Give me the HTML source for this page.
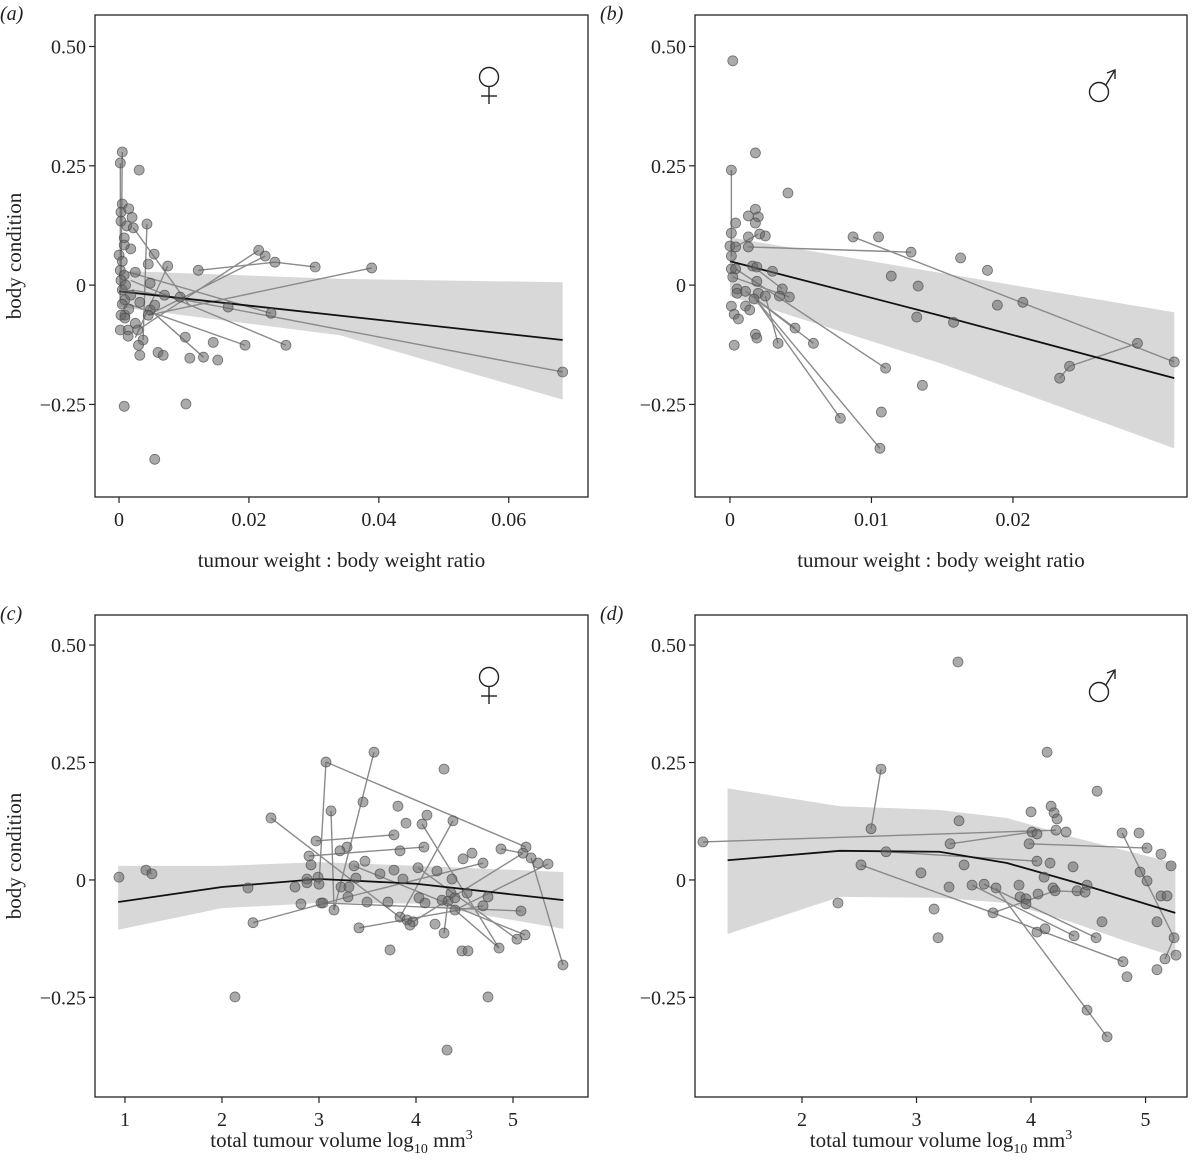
<!DOCTYPE html>
<html><head><meta charset="utf-8"><style>
body{margin:0;background:#fff}
svg{display:block;font-family:"Liberation Serif",serif}
</style></head><body>
<svg id="chart" width="1200" height="1165" viewBox="0 0 1200 1165"></svg>
<script>
// ---------- Panel (a) data ----------
const ptsA=[[0.0005,0.279],[0.0002,0.256],[0.0031,0.241],[0.0005,0.170],[0.0003,0.153],[0.0015,0.160],[0.0003,0.134],[0.002,0.142],[0.0012,0.124],[0.0022,0.120],[0.0043,0.128],[0.0008,0.099],[0.0018,0.076],[0.0008,0.084],[0.0054,0.065],[0.0045,0.044],[0.0075,0.040],[0.0,0.063],[0.0002,0.031],[0.0008,0.021],[0.0025,0.027],[0.0048,0.004],[0.0094,-0.025],[0.0048,-0.052],[0.0032,-0.036],[0.0009,-0.063],[0.0003,-0.063],[0.0025,-0.080],[0.0002,-0.094],[0.0014,-0.094],[0.0014,-0.107],[0.0029,-0.094],[0.0037,-0.115],[0.0102,-0.109],[0.0032,-0.147],[0.006,-0.141],[0.0068,-0.147],[0.0122,0.031],[0.0215,0.073],[0.0225,0.061],[0.024,0.048],[0.0302,0.038],[0.0389,0.036],[0.0168,-0.046],[0.0234,-0.059],[0.0257,-0.126],[0.0194,-0.126],[0.0152,-0.157],[0.013,-0.151],[0.0109,-0.153],[0.0008,-0.254],[0.0103,-0.249],[0.0055,-0.365],[0.0683,-0.182],[0.0005,-0.010],[0.0003,0.010],[0.0009,-0.031],[0.0018,-0.021],[0.0055,-0.042],[0.007,-0.021],[0.0045,-0.063],[0.0009,-0.069],[0.003,-0.126],[0.0145,-0.120],[0.0005,-0.04],[0.001,0.0],[0.0015,-0.05],[0.0005,0.05]];
const segA=[[0.0005,0.279,0.0003,-0.010],[0.0002,0.256,0.0002,-0.03],[0.0043,0.128,0.0037,-0.115],[0.0022,0.120,0.0110,-0.046],[0.0122,0.031,0.024,0.048],[0.024,0.048,0.0302,0.038],[0.0215,0.073,0.0029,-0.094],[0.0225,0.061,0.0045,-0.063],[0.0015,0.027,0.0234,-0.059],[0.0018,0.010,0.0257,-0.126],[0.0015,-0.040,0.0194,-0.126],[0.0048,-0.052,0.0130,-0.151],[0.0045,-0.063,0.0389,0.036],[0.0075,0.040,0.0025,-0.110],[0.0020,-0.010,0.0683,-0.182]];
const fitXA=[0,0.034,0.0683];
const fitYA=[-0.013,-0.064,-0.115];
const hiA=[0.03,0.013,0.006];
const loA=[-0.046,-0.105,-0.24];
const xTicksA=[0,0.02,0.04,0.06];
const xLabelsA=["0","0.02","0.04","0.06"];

// ---------- Panel (b) data ----------
const ptsB=[[0.0002,0.470],[0.0018,0.277],[0.0001,0.241],[0.0041,0.193],[0.0018,0.159],[0.0013,0.145],[0.002,0.143],[0.0018,0.130],[0.0004,0.130],[0.0001,0.109],[0.0021,0.107],[0.0025,0.103],[0.0013,0.101],[0,0.082],[0.0004,0.080],[0.0013,0.080],[0.0087,0.101],[0.0105,0.101],[0.0128,0.069],[0.0001,0.061],[0.0001,0.034],[0.0004,0.034],[0.0016,0.040],[0.0019,0.038],[0.003,0.029],[0.0002,0.017],[0.0019,0.008],[0.0114,0.019],[0.0133,-0.002],[0.0005,-0.008],[0.0005,-0.017],[0.0011,-0.013],[0.002,-0.017],[0.0025,-0.023],[0.0037,-0.008],[0.0042,-0.025],[0.0035,-0.023],[0.0001,-0.044],[0.0011,-0.044],[0.0017,-0.029],[0.0014,-0.052],[0.0003,-0.061],[0.0006,-0.071],[0.0046,-0.090],[0.0018,-0.103],[0.0019,-0.111],[0.0034,-0.122],[0.0059,-0.122],[0.0003,-0.126],[0.011,-0.174],[0.0163,0.057],[0.0182,0.031],[0.0207,-0.036],[0.0189,-0.042],[0.0288,-0.122],[0.0314,-0.161],[0.0233,-0.195],[0.024,-0.170],[0.0132,-0.067],[0.0158,-0.078],[0.0107,-0.266],[0.0078,-0.279],[0.0106,-0.342],[0.0136,-0.21]];
const segB=[[0.0001,0.241,0.0001,0.06],[0.0013,0.080,0.0128,0.069],[0.0087,0.101,0.0314,-0.161],[0.0004,0.080,0.002,0.107],[0.0004,0.034,0.0110,-0.174],[0.0016,0.040,0.0037,-0.008],[0.0018,-0.029,0.0059,-0.122],[0.0018,-0.029,0.0078,-0.279],[0.0018,-0.029,0.0106,-0.342],[0.0011,-0.013,0.0046,-0.090],[0.0025,-0.023,0.0034,-0.122],[0.0233,-0.195,0.024,-0.170],[0.024,-0.170,0.0288,-0.122],[0.0002,0.017,0.0042,-0.025]];
const fitXB=[0,0.015,0.0314];
const fitYB=[0.05,-0.065,-0.195];
const hiB=[0.10,0.025,-0.057];
const loB=[-0.023,-0.165,-0.342];
const xTicksB=[0,0.01,0.02];
const xLabelsB=["0","0.01","0.02"];

// ---------- Panel (c) data ----------
const ptsC=[[3.567,0.272],[3.072,0.251],[4.289,0.236],[3.454,0.166],[3.814,0.157],[3.124,0.147],[4.113,0.138],[3.897,0.121],[4.062,0.119],[4.381,0.126],[2.505,0.132],[3.773,0.096],[2.969,0.083],[4.082,0.070],[3.835,0.062],[3.289,0.070],[3.216,0.062],[2.897,0.051],[2.918,0.032],[3.474,0.040],[3.361,0.030],[4.876,0.066],[5.134,0.070],[5.103,0.057],[5.186,0.047],[5.258,0.036],[5.361,0.034],[4.485,0.045],[4.577,0.057],[4.691,0.036],[4.021,0.026],[4.216,0.019],[3.773,0.021],[3.629,0.013],[3.381,0.004],[3.866,0.002],[4.371,0.002],[2.876,0.002],[2.990,0.006],[2.876,-0.006],[3.000,-0.009],[2.753,-0.015],[2.268,-0.017],[3.227,-0.015],[3.309,-0.015],[3.299,-0.036],[4.361,-0.028],[4.526,-0.028],[4.742,-0.036],[4.031,-0.038],[4.093,-0.049],[4.268,-0.043],[4.330,-0.045],[4.402,-0.038],[4.691,-0.055],[5.082,-0.066],[2.814,-0.051],[3.021,-0.049],[3.041,-0.049],[3.155,-0.064],[3.495,-0.047],[3.711,-0.047],[4.402,-0.064],[3.835,-0.079],[3.907,-0.085],[3.969,-0.089],[3.938,-0.096],[4.196,-0.094],[4.289,-0.113],[2.320,-0.091],[3.412,-0.102],[5.041,-0.126],[5.124,-0.117],[4.856,-0.145],[3.732,-0.149],[4.474,-0.151],[4.536,-0.151],[5.515,-0.181],[2.134,-0.249],[4.742,-0.249],[0.938,0.006],[1.216,0.021],[1.278,0.013],[4.320,-0.362]];
const segC=[[3.072,0.251,5.134,0.070],[3.072,0.251,3.000,-0.009],[3.567,0.272,3.155,-0.064],[3.124,0.147,3.155,-0.064],[2.505,0.132,3.938,-0.096],[2.969,0.083,3.773,0.096],[2.897,0.051,4.082,0.070],[4.062,0.119,4.856,-0.145],[4.381,0.126,3.835,-0.079],[2.320,-0.091,3.299,-0.036],[3.412,-0.102,4.691,-0.055],[3.361,0.030,5.124,-0.117],[5.103,0.057,3.969,-0.089],[5.186,0.047,5.515,-0.181],[5.361,0.034,4.402,-0.064],[4.691,0.036,3.299,-0.036],[4.402,-0.064,4.856,-0.145],[4.021,0.026,5.041,-0.126],[4.876,0.066,5.103,0.057],[3.041,-0.049,5.082,-0.066],[4.289,-0.113,4.330,-0.045],[1.216,0.021,1.278,0.013]];
const fitXC=[0.93,2,3,4,5.52];
const fitYC=[-0.047,-0.015,0.002,-0.008,-0.043];
const hiC=[0.03,0.03,0.038,0.03,0.017];
const loC=[-0.106,-0.06,-0.049,-0.05,-0.104];
const xTicksC=[1,2,3,4,5];
const xLabelsC=["1","2","3","4","5"];

// ---------- Panel (d) data ----------
const ptsD=[[4.140,0.272],[4.577,0.189],[2.690,0.236],[4.000,0.145],[4.175,0.157],[4.201,0.143],[4.227,0.130],[3.371,0.126],[2.603,0.109],[4.009,0.102],[4.052,0.098],[4.218,0.106],[4.306,0.102],[4.795,0.100],[4.943,0.100],[3.293,0.077],[3.983,0.077],[5.013,0.068],[5.135,0.055],[5.223,0.030],[2.734,0.060],[2.515,0.032],[3.415,0.032],[4.052,0.040],[4.166,0.036],[4.367,0.028],[3.039,0.015],[4.114,0.006],[4.952,0.017],[5.013,-0.002],[3.284,-0.015],[3.485,-0.011],[3.590,-0.009],[3.694,-0.017],[3.895,-0.011],[4.192,-0.017],[4.210,-0.023],[4.402,-0.023],[4.472,-0.026],[4.489,-0.011],[5.135,-0.034],[5.188,-0.034],[3.904,-0.036],[4.061,-0.030],[3.956,-0.040],[3.956,-0.051],[3.153,-0.062],[3.668,-0.070],[5.100,-0.089],[4.620,-0.089],[3.188,-0.123],[4.052,-0.111],[4.122,-0.104],[4.376,-0.119],[4.568,-0.123],[5.249,-0.123],[4.803,-0.174],[5.170,-0.168],[5.266,-0.160],[5.100,-0.191],[4.838,-0.206],[4.489,-0.277],[4.664,-0.334],[1.135,0.081],[2.314,-0.049],[3.362,0.464]];
const segD=[[2.690,0.236,2.603,0.109],[1.135,0.081,4.218,0.106],[3.293,0.077,4.009,0.102],[3.983,0.077,5.013,0.068],[2.734,0.060,4.052,0.040],[2.515,0.032,3.668,-0.070],[3.668,-0.070,4.803,-0.174],[3.668,-0.070,4.210,-0.023],[4.210,-0.023,4.472,-0.026],[3.485,-0.011,4.376,-0.119],[3.590,-0.009,4.568,-0.123],[3.694,-0.017,4.664,-0.334],[4.795,0.100,5.249,-0.123],[5.249,-0.123,5.170,-0.168]];
const fitXD=[1.35,2.33,3.2,3.79,4.37,4.80,5.26];
const fitYD=[0.042,0.062,0.060,0.036,-0.004,-0.036,-0.07];
const hiD=[0.195,0.157,0.149,0.132,0.091,0.064,0.036];
const loD=[-0.115,-0.036,-0.038,-0.049,-0.091,-0.128,-0.164];
const xTicksD=[2,3,4,5];
const xLabelsD=["2","3","4","5"];

const yTicks=[-0.25,0,0.25,0.5];
const yLabels=["\u22120.25","0","0.25","0.50"];

const NS="http://www.w3.org/2000/svg";
const svg=document.getElementById('chart');
function mk(tag,attrs,parent){const e=document.createElementNS(NS,tag);for(const k in attrs)e.setAttribute(k,attrs[k]);(parent||svg).appendChild(e);return e;}

function sexIcon(g,kind,cx,cy){
  const s=mk('g',{fill:'none',stroke:'#222','stroke-width':1.4},g);
  
  
  if(kind==='f'){
    mk('circle',{cx:cx,cy:cy,r:9.5},s);
    mk('line',{x1:cx,y1:cy+9.5,x2:cx,y2:cy+27},s);
    mk('line',{x1:cx-8,y1:cy+19,x2:cx+8,y2:cy+19},s);
  } else {
    mk('circle',{cx:cx,cy:cy,r:9.5},s);
    mk('line',{x1:cx+6.7,y1:cy-6.7,x2:cx+16,y2:cy-22},s);
    mk('polyline',{points:(cx+8)+','+(cy-19)+' '+(cx+16)+','+(cy-22)+' '+(cx+16)+','+(cy-13)},s);
  }
}

function panel(id,box,xd,yd,pts,segs,fx,fy,hi,lo,xt,xl,sym,label,xtitle,showY,titleY){
  const g=mk('g',{});
  
  
  const X=v=>box.x0+(v-xd[0])/(xd[1]-xd[0])*(box.x1-box.x0);
  const Y=v=>box.y1-(v-yd[0])/(yd[1]-yd[0])*(box.y1-box.y0);
  let d='M'+fx.map((v,i)=>X(v)+','+Y(hi[i])).join('L')+'L'+fx.map((v,i)=>X(v)+','+Y(lo[i])).reverse().join('L')+'Z';
  const band=mk('path',{d:d,fill:'#d8d8d8',stroke:'none'},g);
  
  
  segs.forEach(s=>{
    const l=mk('line',{x1:X(s[0]),y1:Y(s[1]),x2:X(s[2]),y2:Y(s[3]),stroke:'#8a8a8a','stroke-width':1.4},g);
    
    
  });
  const fl=mk('polyline',{points:fx.map((v,i)=>X(v)+','+Y(fy[i])).join(' '),fill:'none',stroke:'#111','stroke-width':1.8},g);
  
  
  pts.forEach(p=>{
    const c=mk('circle',{cx:X(p[0]),cy:Y(p[1]),r:5,fill:'rgba(100,100,100,0.55)',stroke:'rgba(70,70,70,0.7)','stroke-width':0.8},g);
    
    
  });
  const fr=mk('rect',{x:box.x0,y:box.y0,width:box.x1-box.x0,height:box.y1-box.y0,fill:'none',stroke:'#222','stroke-width':1.3},g);
  
  
  yTicks.forEach((v,i)=>{
    mk('line',{x1:box.x0-6,x2:box.x0,y1:Y(v),y2:Y(v),stroke:'#222','stroke-width':1.2},g);
    const t=mk('text',{x:box.x0-9,y:Y(v)+7,'text-anchor':'end','font-size':20,fill:'#222'},g);
    t.textContent=yLabels[i];
    
    
  });
  xt.forEach((v,i)=>{
    mk('line',{x1:X(v),x2:X(v),y1:box.y1,y2:box.y1+6,stroke:'#222','stroke-width':1.2},g);
    const t=mk('text',{x:X(v),y:box.y1+29,'text-anchor':'middle','font-size':20,fill:'#222'},g);
    t.textContent=xl[i];
    
    
  });
  const pl=mk('text',{x:box.x0-95,y:box.y0+5,'font-size':20,'font-style':'italic',fill:'#222'},g);
  pl.textContent=label;
  
  
  if(sym==='f') sexIcon(g,'f',box.x0+394,box.y0+62);
  else sexIcon(g,'m',box.x0+404,box.y0+77);
  const xtl=mk('text',{x:(box.x0+box.x1)/2,y:box.y1+titleY,'text-anchor':'middle','font-size':21,fill:'#222'},g);
  xtl.innerHTML=xtitle;
  
  
  if(showY){
    const yt=mk('text',{x:0,y:0,transform:'translate(21,'+(box.y0+box.y1)/2+') rotate(-90)','text-anchor':'middle','font-size':21,fill:'#222'},g);
    yt.textContent='body condition';
    
    
  }
}
const t1='tumour weight : body weight ratio';
const t2='total tumour volume log<tspan font-size="14" dy="6">10</tspan><tspan dy="-6"> mm</tspan><tspan font-size="14" dy="-8">3</tspan>';
panel('a',{x0:95,x1:588,y0:15,y1:497},[-0.0037,0.0722],[-0.444,0.566],ptsA,segA,fitXA,fitYA,hiA,loA,xTicksA,xLabelsA,'f','(a)',t1,true,70);
panel('b',{x0:695,x1:1187,y0:15,y1:497},[-0.00247,0.0323],[-0.444,0.566],ptsB,segB,fitXB,fitYB,hiB,loB,xTicksB,xLabelsB,'m','(b)',t1,false,70);
panel('c',{x0:95,x1:588,y0:615,y1:1097},[0.691,5.773],[-0.462,0.564],ptsC,segC,fitXC,fitYC,hiC,loC,xTicksC,xLabelsC,'f','(c)',t2,true,50);
panel('d',{x0:695,x1:1187,y0:615,y1:1097},[1.0655,5.362],[-0.462,0.564],ptsD,segD,fitXD,fitYD,hiD,loD,xTicksD,xLabelsD,'m','(d)',t2,false,50);
</script>
</body></html>
